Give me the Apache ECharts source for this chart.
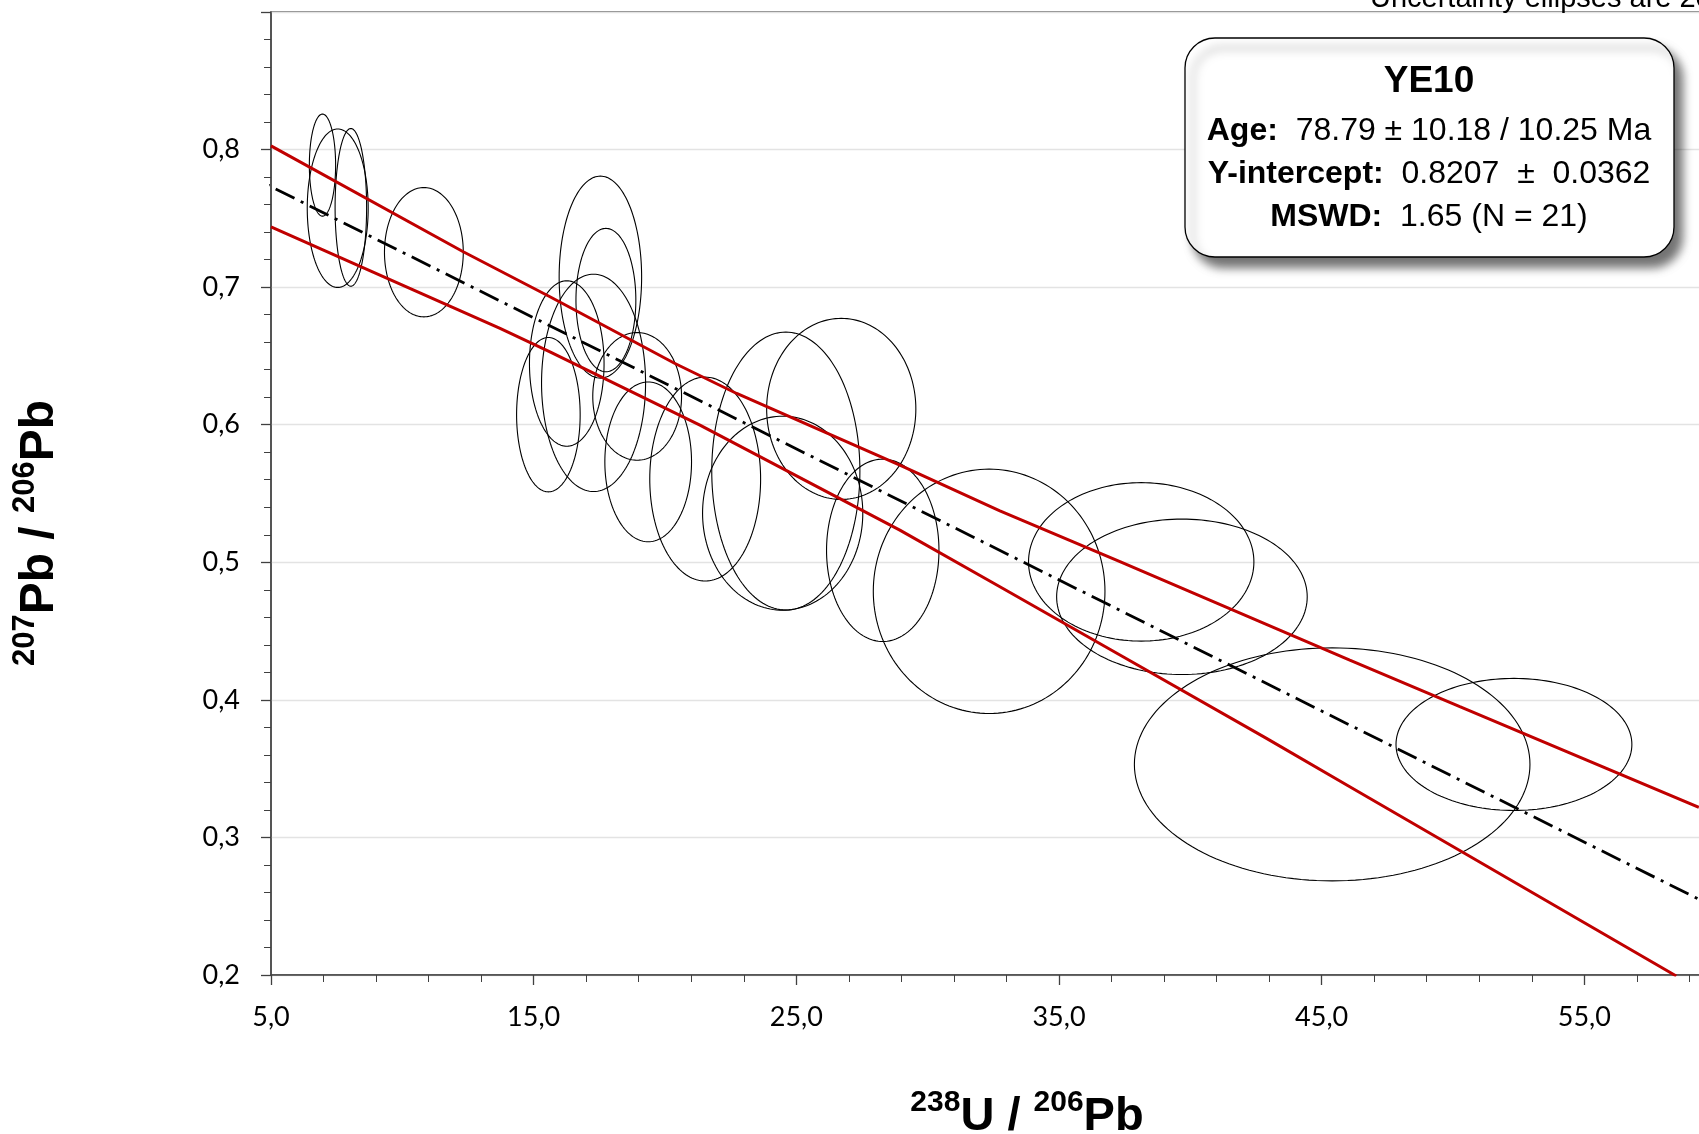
<!DOCTYPE html>
<html>
<head>
<meta charset="utf-8">
<title>YE10 Tera-Wasserburg</title>
<script src="https://cdn.jsdelivr.net/npm/echarts@6/dist/echarts.min.js"></script>
<style>
  html, body { margin: 0; padding: 0; background: #fff; }
  #chart { width: 1699px; height: 1134px; }
</style>
</head>
<body>
<div id="chart"></div>
<script>
// 2σ uncertainty ellipses: centre (238U/206Pb, 207Pb/206Pb) and half-widths
const ellipseX  = [6.96, 7.54, 8.04, 10.82, 17.54, 17.75, 17.28, 16.26, 15.56, 18.94, 19.36,
                   21.53, 24.60, 26.71, 24.48, 28.29, 32.34, 38.13, 39.68, 45.40, 52.32];
const ellipseY  = [0.7887, 0.7574, 0.7580, 0.7254, 0.7073, 0.6906, 0.6304, 0.6445, 0.6073, 0.6206, 0.5730,
                   0.5605, 0.5663, 0.6115, 0.5357, 0.5087, 0.4789, 0.5003, 0.4749, 0.3531, 0.3676];
const ellipseRX = [0.50, 1.16, 0.60, 1.50, 1.57, 1.14, 1.98, 1.42, 1.21, 1.69, 1.65,
                   2.11, 2.82, 2.84, 3.05, 2.14, 4.41, 4.29, 4.77, 7.53, 4.49];
const ellipseRY = [0.0371, 0.0576, 0.0573, 0.0470, 0.0734, 0.0521, 0.0790, 0.0601, 0.0561, 0.0464, 0.0581,
                   0.0741, 0.1010, 0.0658, 0.0705, 0.0663, 0.0888, 0.0576, 0.0565, 0.0847, 0.0480];

// regression line (y-intercept 0.8207)
const regX = [0, 65];
const regY = [0.8207, 0.2013];

// confidence envelope
const upperX = [5, 12.32, 15.62, 20.38, 22.73, 28.94, 32.75, 37.32, 46.07, 50.26, 59.36];
const upperY = [0.8027, 0.7257, 0.6930, 0.6445, 0.6227, 0.5706, 0.5374, 0.5004, 0.4289, 0.3950, 0.3219];
const lowerX = [5, 13.72, 15.62, 21.33, 28.94, 32.75, 37.32, 42.90, 46.07, 58.50];
const lowerY = [0.7438, 0.6700, 0.6530, 0.5997, 0.5234, 0.4822, 0.4326, 0.3720, 0.3368, 0.1993];

// axis ticks
const xTicks = { min: 5, max: 65, step: 10 };
const yTicks = { min: 0.2, max: 0.9, step: 0.1 };

// result box text
const sampleName = 'YE10';
const statLines = [
  ['Age:', '78.79 ± 10.18 / 10.25 Ma'],
  ['Y-intercept:', '0.8207  ±  0.0362'],
  ['MSWD:', '1.65 (N = 21)']
];
const noteText = 'Uncertainty ellipses are 2σ';

const ellipseData = ellipseX.map((x, i) => [x, ellipseY[i], ellipseRX[i], ellipseRY[i]]);
const pairs = (xs, ys) => xs.map((x, i) => [x, ys[i]]);
const comma = v => v.toFixed(1).replace('.', ',');

const chart = echarts.init(document.getElementById('chart'), null, { renderer: 'canvas' });

const tickFont = { fontFamily: 'Lato', fontSize: 27, color: '#000' };
const axisColor = '#404040';

chart.setOption({
  animation: false,
  backgroundColor: '#fff',
  grid: {
    left: 271, top: 12, right: -148, bottom: 159,
    containLabel: false, outerBoundsMode: 'none',
    show: true, borderColor: '#595959', borderWidth: 1.3, backgroundColor: 'transparent'
  },
  xAxis: {
    type: 'value', min: xTicks.min, max: xTicks.max, interval: xTicks.step,
    axisLine: { show: true, onZero: false, lineStyle: { color: axisColor, width: 1.5 } },
    axisTick: { show: true, inside: false, length: 10, lineStyle: { color: axisColor, width: 1.3 } },
    minorTick: { show: true, splitNumber: 5, length: 7, lineStyle: { color: axisColor, width: 1 } },
    axisLabel: Object.assign({ margin: 29, formatter: comma }, tickFont),
    splitLine: { show: false }, minorSplitLine: { show: false }
  },
  yAxis: {
    type: 'value', min: yTicks.min, max: yTicks.max, interval: yTicks.step,
    axisLine: { show: true, onZero: false, lineStyle: { color: axisColor, width: 1.5 } },
    axisTick: { show: true, inside: false, length: 10, lineStyle: { color: axisColor, width: 1.3 } },
    minorTick: { show: true, splitNumber: 5, length: 7, lineStyle: { color: axisColor, width: 1 } },
    axisLabel: Object.assign({ margin: 31, formatter: comma, showMaxLabel: false }, tickFont),
    splitLine: { show: true, lineStyle: { color: '#e3e3e3', width: 1.3 } },
    minorSplitLine: { show: false }
  },
  series: [
    {
      name: 'ellipses', type: 'custom', clip: true, silent: true,
      encode: { x: 0, y: 1 },
      data: ellipseData,
      renderItem: (params, api) => {
        const cx = api.value(0), cy = api.value(1), rx = api.value(2), ry = api.value(3);
        const pts = [];
        for (let k = 0; k <= 160; k++) {
          const t = k / 160 * Math.PI * 2;
          pts.push(api.coord([cx + rx * Math.cos(t), cy + ry * Math.sin(t)]));
        }
        return { type: 'polygon', shape: { points: pts }, style: { fill: 'none', stroke: '#000', lineWidth: 1.1 } };
      },
      z: 2
    },
    {
      name: 'upper', type: 'line', data: pairs(upperX, upperY), showSymbol: false, symbol: 'none',
      clip: true, lineStyle: { color: '#c00000', width: 3 }, z: 3
    },
    {
      name: 'lower', type: 'line', data: pairs(lowerX, lowerY), showSymbol: false, symbol: 'none',
      clip: true, lineStyle: { color: '#c00000', width: 3 }, z: 3
    },
    {
      name: 'regression', type: 'line', data: pairs(regX, regY), showSymbol: false, symbol: 'none',
      clip: true, lineStyle: { color: '#000', width: 2.8, type: [21, 7, 3, 7], cap: 'butt' }, z: 4
    }
  ],
  graphic: [
    {
      type: 'text', x: 1370, y: -1, z: 10,
      style: { text: noteText, fontFamily: 'Liberation Sans', fontSize: 29, fill: '#000',
               align: 'left', textAlign: 'left', verticalAlign: 'middle', textVerticalAlign: 'middle' }
    },
    {
      type: 'rect', z: 10,
      shape: { x: 1185, y: 38, width: 489, height: 219, r: 30 },
      style: { fill: '#fff', stroke: '#000', lineWidth: 1.3,
               shadowBlur: 10, shadowOffsetX: 8, shadowOffsetY: 10, shadowColor: 'rgba(0,0,0,0.55)' }
    },
    {
      type: 'text', x: 1429, y: 82, z: 11,
      style: { text: sampleName, fontFamily: 'Liberation Sans', fontWeight: 'bold', fontSize: 37, fill: '#000',
               align: 'center', textAlign: 'center', verticalAlign: 'middle', textVerticalAlign: 'middle' }
    },
    ...statLines.map((ln, i) => ({
      type: 'text', x: 1429, y: 131 + i * 43, z: 11,
      style: {
        text: '{b|' + ln[0] + '}  ' + ln[1],
        fontFamily: 'Liberation Sans', fontSize: 32, fill: '#000',
        align: 'center', textAlign: 'center', verticalAlign: 'middle', textVerticalAlign: 'middle',
        rich: { b: { fontFamily: 'Liberation Sans', fontWeight: 'bold', fontSize: 32, fill: '#000' } }
      }
    })),
    {
      type: 'text', x: 1027, y: 1117, z: 10,
      style: {
        text: '{s|238}{m|U / }{s|206}{m|Pb}', fill: '#000',
        align: 'center', textAlign: 'center', verticalAlign: 'middle', textVerticalAlign: 'middle',
        rich: {
          s: { fontFamily: 'Liberation Sans', fontWeight: 'bold', fontSize: 30, verticalAlign: 'top', fill: '#000' },
          m: { fontFamily: 'Liberation Sans', fontWeight: 'bold', fontSize: 47, lineHeight: 58, fill: '#000' }
        }
      }
    },
    {
      type: 'text', x: 40, y: 533, z: 10, rotation: Math.PI / 2,
      style: {
        text: '{s|207}{m|Pb / }{s|206}{m|Pb}', fill: '#000',
        align: 'center', textAlign: 'center', verticalAlign: 'middle', textVerticalAlign: 'middle',
        rich: {
          s: { fontFamily: 'Liberation Sans', fontWeight: 'bold', fontSize: 31, verticalAlign: 'top', fill: '#000' },
          m: { fontFamily: 'Liberation Sans', fontWeight: 'bold', fontSize: 48, lineHeight: 60, fill: '#000' }
        }
      }
    }
  ]
});
</script>
</body>
</html>
